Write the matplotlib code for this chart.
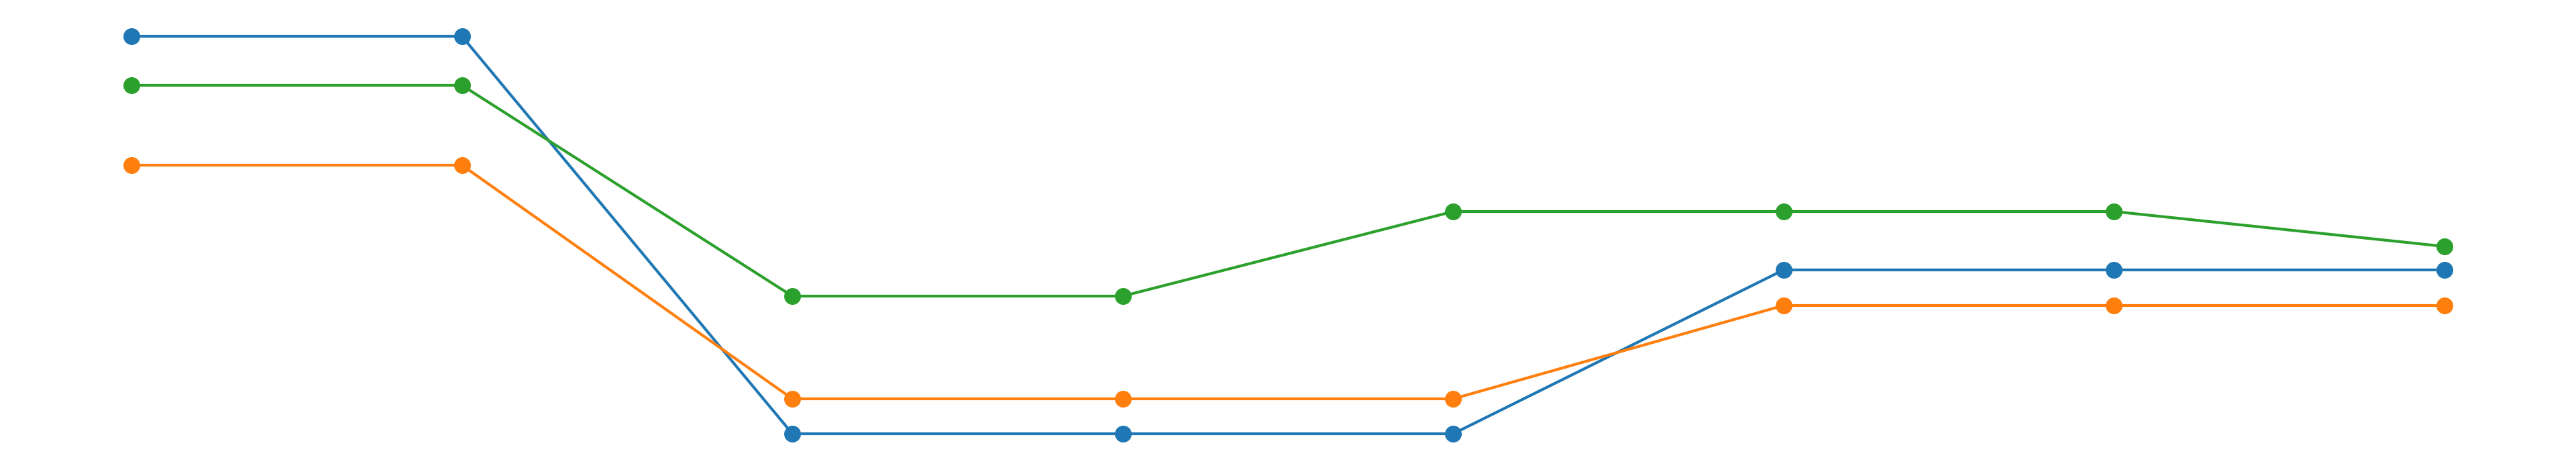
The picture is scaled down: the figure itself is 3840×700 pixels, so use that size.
import matplotlib
matplotlib.use("Agg")
import matplotlib.pyplot as plt

x_positions = [0, 1, 2, 3, 4, 5, 6, 7]
blue_values = [64.6, 64.6, 5.4, 5.4, 5.4, 29.8, 29.8, 29.8]
orange_values = [45.4, 45.4, 10.6, 10.6, 10.6, 24.5, 24.5, 24.5]
green_values = [57.3, 57.3, 25.9, 25.9, 38.5, 38.5, 38.5, 33.3]

fig = plt.figure(figsize=(19.2, 3.5), dpi=200)
ax = fig.add_axes([0, 0, 1, 1])
ax.plot(x_positions, blue_values, color="#1f77b4", lw=1.5, marker="o", ms=8)
ax.plot(x_positions, orange_values, color="#ff7f0e", lw=1.5, marker="o", ms=8)
ax.plot(x_positions, green_values, color="#2ca02c", lw=1.5, marker="o", ms=8)
ax.set_xlim(-0.398, 7.398)
ax.set_ylim(0, 70)
ax.axis("off")
fig.savefig("out.png", dpi=200, facecolor="white")
